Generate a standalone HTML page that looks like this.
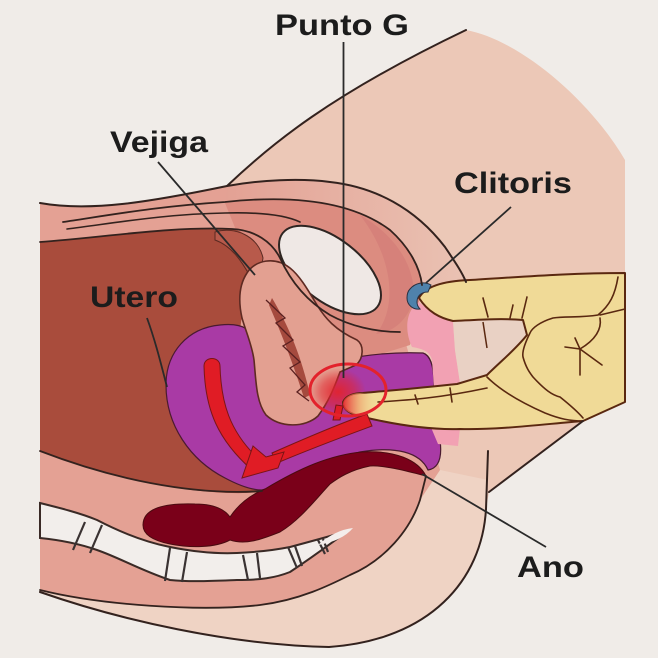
<!DOCTYPE html>
<html>
<head>
<meta charset="utf-8">
<style>
  html,body{margin:0;padding:0;background:#f0ece8;}
  svg{display:block;}
  text{font-family:"Liberation Sans",Arial,sans-serif;font-weight:bold;fill:#1c1c1c;}
</style>
</head>
<body>
<svg width="658" height="658" viewBox="0 0 658 658" xmlns="http://www.w3.org/2000/svg">
  <defs>
    <linearGradient id="band" x1="0" y1="0" x2="1" y2="0">
      <stop offset="0" stop-color="#e3a194"/>
      <stop offset="1" stop-color="#eac2b3"/>
    </linearGradient>
    <radialGradient id="glow" cx="0.5" cy="0.5" r="0.5">
      <stop offset="0" stop-color="#e2232d" stop-opacity="0.95"/>
      <stop offset="0.6" stop-color="#e2232d" stop-opacity="0.5"/>
      <stop offset="1" stop-color="#e2232d" stop-opacity="0"/>
    </radialGradient>
    <linearGradient id="tip" x1="0" y1="0" x2="1" y2="0">
      <stop offset="0" stop-color="#e42a30" stop-opacity="0.95"/>
      <stop offset="0.5" stop-color="#ee9a6a" stop-opacity="0.6"/>
      <stop offset="1" stop-color="#f0da97" stop-opacity="0"/>
    </linearGradient>
  </defs>

  <rect x="0" y="0" width="658" height="658" fill="#f0ece8"/>

  <!-- body peach -->
  <path d="M40,203 C90,212 150,202 227,186 C270,145 330,95 466,30 C520,40 590,100 625,160 L625,402 L583,421 L489,492 L486,509 C482,580 430,640 329,647 C230,645 120,620 40,592 Z" fill="#ecc8b7"/>

  <!-- lower light ring -->
  <path d="M40,590 C100,605 200,612 260,605 C300,600 330,585 350,575 C385,560 410,530 420,500 L440,470 L488,480 L486,509 C482,580 430,640 329,647 C230,645 120,620 40,592 Z" fill="#efd3c4"/>

  <!-- abdominal / pelvic pink -->
  <path d="M40,203 C90,212 150,202 227,186 C260,180 300,178 330,182 C375,187 415,208 445,247 C455,262 462,272 466,282 L419,300 L405,340 L440,470 L420,500 C410,530 385,560 350,575 C330,585 300,600 260,605 C200,612 100,605 40,590 Z" fill="#e4a194"/>

  <!-- band between arcs -->
  <path d="M227,186 C260,180 300,178 330,182 C375,187 415,208 445,247 C455,262 462,272 466,282 L422,290 C420,268 410,248 390,230 C350,200 290,195 225,202 Z" fill="url(#band)"/>

  <!-- pubic region darker pink -->
  <path d="M225,203 C290,195 350,200 390,230 C410,248 420,268 422,288 L410,345 L330,370 L262,300 L240,240 Z" fill="#dc8c80"/>
  <path d="M360,215 C395,235 415,265 414,298 C408,320 394,332 376,334 C396,310 396,262 360,215 Z" fill="#d6817a"/>

  <!-- brown cavity -->
  <path d="M40,242 C100,238 170,226 232,229 C250,232 262,250 258,272 L246,285 L240,330 L245,480 L262,492 C200,498 110,478 40,451 Z" fill="#a94c3c"/>

  <!-- bladder dark lobe -->
  <path d="M215,232 C235,226 258,236 263,258 C262,268 256,274 250,276 C242,262 232,246 215,240 Z" fill="#b85a4b" stroke="#5a2a22" stroke-width="1"/>

  <!-- pubic bone oval -->
  <ellipse cx="330" cy="270" rx="60" ry="31" transform="rotate(38 330 270)" fill="#efe8e5" stroke="#2e2522" stroke-width="2"/>

  <!-- vertebrae -->
  <path d="M40,503 C60,508 80,513 97,520 C120,532 145,542 170,547 C195,552 215,554 237,553 C260,552 275,550 290,547 C305,543 320,539 348,531 C335,540 320,552 290,572 C275,578 260,580 237,580 C210,581 190,582 170,580 C140,570 120,558 97,550 C80,544 60,540 40,538 Z" fill="#f2eeeb" stroke="#3a2a26" stroke-width="2"/>
  <g stroke="#3a3232" stroke-width="2.2" fill="none">
    <line x1="85" y1="522" x2="73" y2="550"/>
    <line x1="102" y1="525" x2="90" y2="553"/>
    <line x1="170" y1="548" x2="165" y2="581"/>
    <line x1="187" y1="552" x2="182" y2="582"/>
    <line x1="243" y1="555" x2="248" y2="580"/>
    <line x1="257" y1="553" x2="260" y2="578"/>
    <line x1="288" y1="547" x2="297" y2="568"/>
    <line x1="295" y1="546" x2="302" y2="566"/>
    <line x1="318" y1="540" x2="325" y2="554"/>
    <line x1="323" y1="539" x2="328" y2="552"/>
  </g>

  <!-- purple uterus / vagina -->
  <path d="M255,342 C252,327 238,323 220,325 C188,328 166,352 166,385 C166,425 190,460 225,478 C240,486 252,490 262,490 C295,482 325,462 360,452 C395,446 420,452 428,470 C440,468 442,455 440,440 L432,420 L434,385 C434,366 430,355 423,353 C400,352 370,354 340,360 L300,395 L270,415 C262,400 258,370 255,342 Z" fill="#a93aa5" stroke="#4a1a30" stroke-width="1.2"/>

  <!-- cervix / vaginal blob -->
  <path d="M247,273 C255,260 275,256 290,268 C300,276 308,290 317,305 C325,318 335,330 357,340 C364,345 364,358 356,365 L340,372 C335,385 330,400 318,416 C305,428 280,428 266,415 C256,402 256,380 254,360 C252,345 246,332 242,318 C238,300 239,285 247,273 Z" fill="#e3a091" stroke="#5e2a22" stroke-width="1.6"/>
  <path d="M272,298 C285,320 300,350 310,395 L304,398 C292,360 280,330 269,305 Z" fill="#a54a3e"/>
  <polyline points="266,300 285,318 276,323 293,340 283,346 300,362 290,368 305,385 297,392 309,401" fill="none" stroke="#5a2020" stroke-width="1.3"/>

  <!-- rectum -->
  <path d="M143,525 C143,508 165,503 195,504 C215,504 225,510 230,517 C238,505 250,495 265,489 C300,468 330,455 362,452 C395,450 418,460 426,476 C410,472 385,465 370,466 C350,470 338,478 330,484 C315,500 300,520 280,532 C260,540 245,545 230,540 C215,548 190,548 170,544 C150,540 143,533 143,525 Z" fill="#7a0019" stroke="#4a0a10" stroke-width="1"/>

  <!-- anal slit -->
  <path d="M318,545 Q335,530 353,528 Q342,541 318,545 Z" fill="#f4eeec"/>

  <!-- vulva pink -->
  <path d="M419,302 C430,312 445,319 453,321 L455,350 L460,383 L447,390 L434,388 L432,360 C430,352 424,349 412,347 C404,330 406,310 419,302 Z" fill="#f2a1b3"/>
  <path d="M430,425 L460,428 L458,446 L438,444 Z" fill="#f2a1b3"/>
  <!-- beige region between thumb and index -->
  <path d="M453,321 L523,319 L527,335 L487,375 L460,383 L455,350 Z" fill="#e9d1c4"/>
  <path d="M483,322 L487,348" stroke="#5a2810" stroke-width="1.5" fill="none"/>

  <!-- red glow at G spot -->
  <ellipse cx="338" cy="392" rx="28" ry="24" fill="url(#glow)"/>

  <!-- hand -->
  <path d="M419,298 C425,286 445,281 470,280 C520,277 570,273 625,273 L625,402 L583,421 C545,424 500,430 460,429 C430,430 397,425 363,417 C350,414 343,410 343,402 C346,395 355,393 363,393 C385,391 420,388 457,384 L487,375 C500,362 515,350 527,335 L523,320 C500,318 475,320 453,321 C440,318 428,312 419,298 Z" fill="#f0da97" stroke="#5a2810" stroke-width="2" stroke-linejoin="round"/>
  <g fill="none" stroke="#5a2810" stroke-width="1.6" stroke-linecap="round">
    <path d="M483,298 L488,317"/>
    <path d="M513,305 L510,318"/>
    <path d="M527,297 L522,318"/>
    <path d="M618,277 C615,295 610,305 598,315 C580,318 565,316 553,318 C540,322 532,328 530,333 C524,345 522,352 523,357 C526,368 530,373 533,377 C545,390 552,395 560,397 C570,405 578,412 583,418"/>
    <path d="M625,309 L600,315"/>
    <path d="M600,318 C602,330 595,340 580,349"/>
    <path d="M565,347 L580,349 L602,365"/>
    <path d="M575,338 L580,349 L580,375"/>
    <path d="M487,377 C500,390 520,402 545,413 C560,419 570,421 583,421"/>
    <path d="M378,402 C410,400 440,398 487,388"/>
    <path d="M450,388 L452,402"/>
    <path d="M415,395 L418,404"/>
  </g>
  <!-- fingertip highlight -->
  <ellipse cx="360" cy="404" rx="17" ry="11" fill="url(#tip)"/>

  <!-- red arrow -->
  <g fill="#e01c25" stroke="#7a1515" stroke-width="1">
    <path d="M204,366 C204,356 220,356 220,366 C221,400 228,432 262,462 L252,470 C218,440 205,410 204,366 Z"/>
    <path d="M367,414 C350,420 315,434 272,453 L277,463 C315,447 345,436 372,426 Z"/>
    <path d="M336,405 L343,406 L340,420 L333,420 Z"/>
    <path d="M253,446 L266,457 L284,452 L278,468 L242,478 Z"/>
  </g>

  <!-- red circle -->
  <ellipse cx="348" cy="390" rx="38" ry="26" fill="none" stroke="#e3222c" stroke-width="3"/>

  <!-- clitoris -->
  <path d="M410,289 C415,283 424,281 431,285 L428,292 C421,292 417,296 417,302 C417,305 418,307 420,309 C413,310 407,305 407,298 C407,294 408,291 410,289 Z" fill="#4f82ab" stroke="#2a3040" stroke-width="1"/>

  <!-- outline strokes -->
  <g fill="none" stroke="#33221e" stroke-width="2" stroke-linecap="round">
    <path d="M40,203 C90,212 150,202 227,186 C260,180 300,178 330,182 C375,187 415,208 445,247 C455,262 462,272 466,282"/>
    <path d="M227,186 C270,145 330,95 466,30"/>
    <path d="M63,222 C110,215 160,206 225,202 C290,195 350,200 390,230 C410,248 420,268 422,285" stroke-width="1.8"/>
    <path d="M67,229 C115,223 165,214 225,213 C262,212 285,215 300,222" stroke-width="1.6"/>
    <path d="M40,242 C100,238 170,226 232,229 C255,230 272,242 280,258 C290,280 305,300 330,315 C350,326 375,332 400,332" stroke-width="1.8"/>
    <path d="M40,451 C110,478 190,496 262,491" stroke-width="1.8"/>
    <path d="M40,590 C100,605 200,612 260,605 C300,600 330,585 350,575 C385,560 410,530 420,500 L426,476" stroke-width="1.8"/>
    <path d="M486,509 C482,580 430,640 329,647 C230,645 120,620 40,592"/>
    <path d="M488,451 L486,509"/>
    <path d="M583,421 L489,492"/>
  </g>

  <!-- leader lines -->
  <g stroke="#2a2a2a" stroke-width="1.8" fill="none">
    <line x1="343.5" y1="42" x2="343.5" y2="378"/>
    <line x1="158" y1="162" x2="255" y2="275"/>
    <line x1="511" y1="207" x2="426" y2="283"/>
    <path d="M147,318 C155,340 160,360 167,387"/>
    <line x1="422" y1="474" x2="546" y2="547"/>
  </g>

  <!-- labels -->
  <text x="275" y="35" font-size="30" textLength="134" lengthAdjust="spacingAndGlyphs">Punto G</text>
  <text x="110" y="152" font-size="30" textLength="98" lengthAdjust="spacingAndGlyphs">Vejiga</text>
  <text x="454" y="193" font-size="30" textLength="118" lengthAdjust="spacingAndGlyphs">Clitoris</text>
  <text x="90" y="307" font-size="30" textLength="88" lengthAdjust="spacingAndGlyphs">Utero</text>
  <text x="517" y="577" font-size="30" textLength="67" lengthAdjust="spacingAndGlyphs">Ano</text>
</svg>
</body>
</html>
